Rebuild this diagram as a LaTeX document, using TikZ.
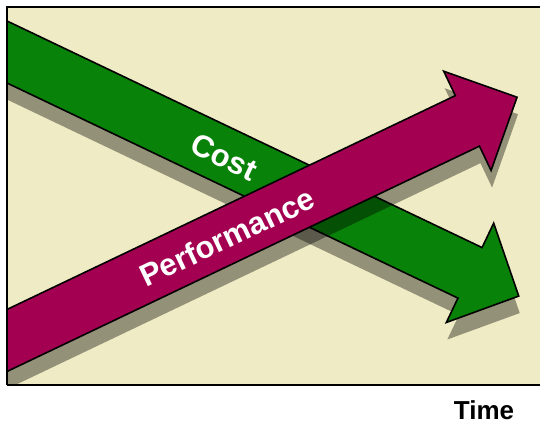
\documentclass[tikz,border=0pt]{standalone}
\usepackage{fontspec}
\setmainfont{Liberation Sans}
\usepackage{tikz}
\definecolor{PaperBeige}{RGB}{239,235,196}
\definecolor{CostGreen}{RGB}{8,130,8}
\definecolor{PerfMagenta}{RGB}{163,0,82}
\tikzstyle{arrowbody} = [draw=black, line width=1.6pt, line join=miter]
\tikzstyle{arrowshadow} = [fill=black, fill opacity=0.38]
\tikzstyle{arrowtext} = [font=\bfseries\fontsize{31}{31}\selectfont, text=white, inner sep=0pt]

\begin{document}
\begin{tikzpicture}[x=1pt, y=1pt]
\useasboundingbox (0,0) rectangle (540,425);

% Fond
\begin{scope}
\clip (7,40) rectangle (545,418);
\fill[PaperBeige] (7,40) rectangle (545,418);

% Fleche du cout (descend)
\begin{scope}[shift={(8,356)}, rotate=-25.5]
\fill[arrowshadow] (-20,28) -- (513,28) -- (513,55) -- (567,0) -- (513,-55) -- (513,-28) -- (-20,-28) -- cycle;
\end{scope}
\begin{scope}[shift={(7,373)}, rotate=-25.5]
\filldraw[arrowbody, fill=CostGreen] (-20,28) -- (513,28) -- (513,55) -- (567,0) -- (513,-55) -- (513,-28) -- (-20,-28) -- cycle;
\end{scope}

% Fleche de la performance (monte)
\begin{scope}[shift={(9,68)}, rotate=25.5]
\fill[arrowshadow] (-20,28) -- (509,28) -- (509,55) -- (564,0) -- (509,-55) -- (509,-28) -- (-20,-28) -- cycle;
\end{scope}
\begin{scope}[shift={(8,85)}, rotate=25.5]
\filldraw[arrowbody, fill=PerfMagenta] (-20,28) -- (509,28) -- (509,55) -- (564,0) -- (509,-55) -- (509,-28) -- (-20,-28) -- cycle;
\end{scope}
\end{scope}

% Cadre
\draw[line width=2.5pt] (7,40) -- (7,418) -- (550,418);
\draw[line width=2.5pt] (7,40) -- (550,40);

% Textes
\node (cost) [arrowtext, rotate=-25.5] at (224,268) {Cost};
\node (perf) [arrowtext, rotate=25.5] at (227,188) {Performance};
\node (time) [font=\bfseries\fontsize{26}{26}\selectfont, anchor=base, inner sep=0pt] at (484,5.5) {Time};

\end{tikzpicture}
\end{document}
